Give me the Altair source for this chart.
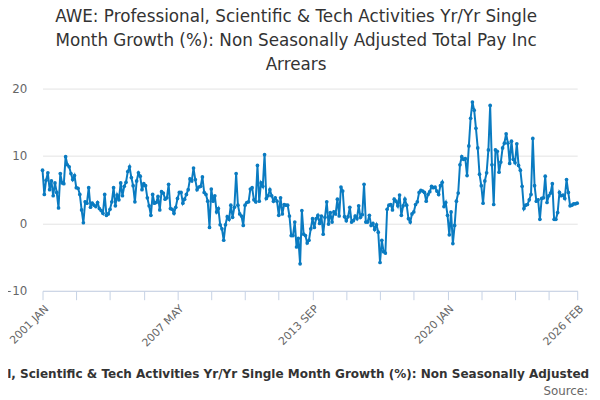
import json
import altair as alt
import pandas as pd

TITLE = ("AWE: Professional, Scientific & Tech Activities Yr/Yr Single Month Growth (%): "
         "Non Seasonally Adjusted Total Pay Inc Arrears")
TITLE_LINES = ["AWE: Professional, Scientific & Tech Activities Yr/Yr Single",
               "Month Growth (%): Non Seasonally Adjusted Total Pay Inc",
               "Arrears"]
SOURCE = "Source:"

START = "2001-01"
values = [
    7.9, 4.3, 6.4, 7.5, 5.0, 6.3, 4.1, 6.0, 4.6, 2.3, 7.4, 6.0, 5.9, 9.9, 8.7, 8.4, 7.4, 6.5, 7.1, 5.3,
    5.2, 4.3, 2.0, 0.1, 3.2, 3.0, 5.3, 2.4, 3.0, 2.7, 2.5, 3.1, 2.2, 1.9, 1.5, 4.3, 1.2, 1.4, 2.1, 3.2,
    5.3, 2.6, 4.2, 3.5, 6.0, 4.1, 5.5, 6.1, 7.7, 8.4, 6.8, 5.6, 3.2, 6.3, 7.5, 7.0, 5.0, 5.9, 5.6, 3.8,
    2.6, 1.2, 4.3, 3.0, 3.1, 4.0, 2.0, 4.7, 4.5, 3.6, 3.8, 5.8, 2.2, 2.1, 1.5, 2.4, 3.7, 4.6, 4.6, 3.0,
    3.6, 4.3, 5.0, 6.6, 6.3, 8.2, 6.5, 5.0, 5.4, 5.5, 6.9, 4.6, 4.3, 3.3, -0.6, 5.1, 3.3, 4.1, 1.7, 2.2,
    -0.2, -0.8, -2.5, -0.2, 1.0, 0.6, 2.7, 0.9, 2.4, 7.4, 2.7, 1.4, 1.1, -0.3, 2.7, 3.1, 3.2, 5.1, 5.3, 3.5,
    3.2, 8.6, 3.3, 6.0, 5.5, 10.2, 3.7, 4.1, 5.0, 4.1, 3.3, 3.8, 3.3, 1.2, 3.8, 1.4, 2.8, 2.7, 2.7, 1.1,
    -1.8, -1.8, 0.2, -3.5, -2.2, -6.0, 1.9, -1.6, -1.8, -2.9, -2.5, -0.8, 0.7, -0.6, 0.7, 1.2, 0.0, 1.1, -1.6, 0.9,
    3.2, -0.1, 1.6, 0.2, 1.7, 1.4, 3.6, 1.1, 5.4, 4.8, 1.0, 0.4, 1.0, 2.4, 0.2, 0.4, 1.1, 0.7, 2.6, 0.9,
    1.3, 5.8, 0.2, 0.2, 1.2, -0.3, 0.0, -0.9, -0.2, -1.3, -5.8, -2.5, -4.2, -4.4, 2.1, 2.7, 2.8, 2.0, 3.6, 3.3,
    2.6, 4.2, 1.2, 2.6, 3.6, 2.7, 0.7, 0.2, 1.4, 1.7, 2.8, 3.2, 4.6, 4.9, 4.8, 4.6, 3.3, 4.3, 4.7, 5.5,
    5.3, 5.4, 4.8, 4.3, 5.6, 6.1, 2.5, 3.1, 1.2, -1.7, 1.7, -3.0, -0.3, 3.3, 4.5, 8.7, 9.9, 9.5, 9.6, 7.1,
    11.5, 15.6, 18.0, 16.8, 14.1, 11.2, 7.3, 5.6, 3.0, 6.3, 7.5, 10.9, 17.5, 8.7, 2.8, 10.9, 10.7, 7.6, 9.1, 11.2,
    11.9, 13.3, 11.9, 8.9, 12.2, 9.5, 9.0, 11.8, 8.6, 7.9, 5.5, 2.2, 2.7, 2.8, 3.5, 4.3, 12.6, 5.6, 3.3, 3.5,
    0.6, 3.7, 3.8, 7.0, 3.1, 4.1, 4.5, 5.9, 0.6, 0.6, 1.6, 4.6, 4.1, 4.2, 3.7, 6.5, 4.6, 2.6, 2.7, 2.9,
    2.9, 3.0,
]
months = list(pd.period_range(START, periods=len(values), freq="M").strftime("%Y %b").str.upper())
tick_labels = ["2001 JAN", "2007 MAY", "2013 SEP", "2020 JAN", "2026 FEB"]
y_ticks = [-10, 0, 10, 20]

tick_values = months[::19] + [months[-1]]
df = pd.DataFrame({"month": months, "value": values})

W, H = 542, 205
FONT = "DejaVu Sans"
BLUE = "#0a7bc1"

cond = " || ".join(f"datum.value == {json.dumps(t)}" for t in tick_labels)
label_expr = f"({cond}) ? datum.value : ''"

base = alt.Chart(df).encode(
    x=alt.X("month:N", sort=None, title=None,
            scale=alt.Scale(type="point", padding=0),
            axis=alt.Axis(values=tick_values, labelExpr=label_expr, labelAngle=-45,
                          labelOverlap=False, labelFontSize=11, labelColor="#666666",
                          labelFont=FONT, domainColor="#c5d1e5", tickColor="#c5d1e5",
                          tickSize=9, grid=False, labelPadding=3)),
    y=alt.Y("value:Q", title=None,
            scale=alt.Scale(domain=[-10, 20], nice=False, zero=False),
            axis=alt.Axis(values=y_ticks, labelFontSize=12, labelColor="#666666",
                          labelFont=FONT, domain=False, ticks=False, gridColor="#e3e3e3",
                          labelPadding=16)),
)
line = base.mark_line(color=BLUE, strokeWidth=2,
                      point=alt.OverlayMarkDef(color=BLUE, size=14, filled=True))

legend = alt.Chart(pd.DataFrame({"t": [TITLE]})).mark_text(
    font=FONT, fontSize=12.2, fontWeight="bold", color="#333333",
    align="center", baseline="middle").encode(
    text="t:N", x=alt.value(W / 2 + 1), y=alt.value(289))

source = alt.Chart(pd.DataFrame({"t": [SOURCE]})).mark_text(
    font=FONT, fontSize=12, color="#666666",
    align="right", baseline="middle").encode(
    text="t:N", x=alt.value(553), y=alt.value(307))

chart = alt.layer(line, legend, source).properties(
    width=W, height=H,
    title=alt.TitleParams(TITLE_LINES, anchor="middle", font=FONT, fontSize=17,
                          fontWeight="normal", color="#333333", lineHeight=24.5,
                          dx=-14, offset=9),
    autosize=alt.AutoSizeParams(type="none"),
    padding={"left": 35, "top": 79, "right": 15, "bottom": 108},
).configure_view(stroke=None)

chart.save("out.html", embed_options={"renderer": "svg", "actions": False})
